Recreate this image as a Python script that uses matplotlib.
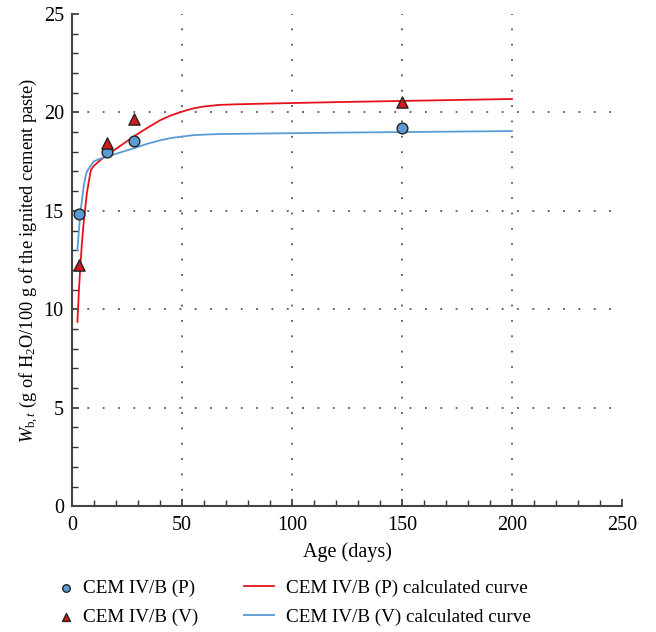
import numpy as np
import matplotlib.pyplot as plt

plt.rcParams['font.family'] = 'Liberation Serif'
plt.rcParams['mathtext.fontset'] = 'custom'
plt.rcParams['mathtext.rm'] = 'Liberation Serif'
plt.rcParams['mathtext.it'] = 'Liberation Serif:italic'

# measured points
age_pts = [3, 16, 28, 150]
wb_P = [14.84, 17.99, 18.55, 19.2]
wb_V = [12.25, 18.45, 19.66, 20.53]

# calculated curves
age_curve = [2.4, 3.0, 3.6, 4.4, 5.2, 6.0, 6.7, 7.6, 8.5, 9.7, 12, 15.8, 20, 27.9, 34, 40, 45,
             50.6, 55, 60, 67, 75, 90, 120, 150, 200]
curve_P = [9.36, 10.8, 12.0, 13.3, 14.36, 15.2, 15.9, 16.5, 17.07, 17.27, 17.5, 17.83, 18.15, 18.77,
           19.2, 19.6, 19.85, 20.06, 20.2, 20.3, 20.38, 20.41, 20.45, 20.52, 20.58, 20.68]
curve_V = [13.0, 13.9, 14.7, 15.5, 16.2, 16.7, 17.0, 17.15, 17.3, 17.5, 17.62, 17.75, 17.9, 18.17,
           18.4, 18.58, 18.7, 18.78, 18.84, 18.87, 18.9, 18.91, 18.93, 18.97, 19.0, 19.05]

x_ticks = [0, 50, 100, 150, 200, 250]
y_ticks = [0, 5, 10, 15, 20, 25]

fig = plt.figure(figsize=(6.56, 6.32), dpi=100)
ax = fig.add_axes([0.11, 0.199, 0.838, 0.779])

for xv in x_ticks[1:-1]:
    ax.axvline(xv, color='#555555', lw=1.3, ls=(0, (1, 7.5)), zorder=0)
for yv in y_ticks[1:-1]:
    ax.axhline(yv, color='#555555', lw=1.3, ls=(0, (1, 7.5)), zorder=0)

ax.plot(age_curve, curve_P, color='#e8111b', lw=1.3, label='CEM IV/B (P) calculated curve', zorder=2)
ax.plot(age_curve, curve_V, color='#5b9bd5', lw=1.3, label='CEM IV/B (V) calculated curve', zorder=2)
ax.scatter(age_pts, wb_P, marker='o', s=60, color='#5b9bd5', edgecolor='#222222', lw=1.0,
           label='CEM IV/B (P)', zorder=3)
ax.scatter(age_pts, wb_V, marker='^', s=65, color='#d7191c', edgecolor='#222222', lw=1.0,
           label='CEM IV/B (V)', zorder=3)

ax.set_xlim(0, 250)
ax.set_ylim(0, 25)
ax.set_xticks(x_ticks)
ax.set_xticks(np.arange(0, 251, 10), minor=True)
ax.set_yticks(y_ticks)
ax.set_yticks(np.arange(0, 26, 1), minor=True)
ax.tick_params(direction='in', labelsize=14.5, length=5, width=1.2, colors='#333333',
               labelcolor='black', pad=7)
ax.tick_params(axis='y', pad=6)
ax.tick_params(which='minor', direction='in', length=4, width=1.0, colors='#333333')
for s in ['top', 'right']:
    ax.spines[s].set_visible(False)
for s in ['left', 'bottom']:
    ax.spines[s].set_linewidth(1.5)
    ax.spines[s].set_color('#444444')

ax.set_xlabel('Age (days)', fontsize=14.5, labelpad=5)
ax.set_ylabel(r'$W_{\mathrm{b},t}$ (g of H$_2$O/100 g of the ignited cement paste)', fontsize=13.2,
              labelpad=3)

h, l = ax.get_legend_handles_labels()
fig.legend([h[2], h[3]], [l[2], l[3]], frameon=False, fontsize=13.8, markerscale=0.7,
           loc='lower left', bbox_to_anchor=(0.06, -0.018), handlelength=1.0, handletextpad=0.4,
           labelspacing=0.6)
fig.legend([h[0], h[1]], [l[0], l[1]], frameon=False, fontsize=13.8,
           loc='lower left', bbox_to_anchor=(0.345, -0.018), handlelength=1.6, handletextpad=0.6,
           labelspacing=0.6)

plt.savefig('out.png')
